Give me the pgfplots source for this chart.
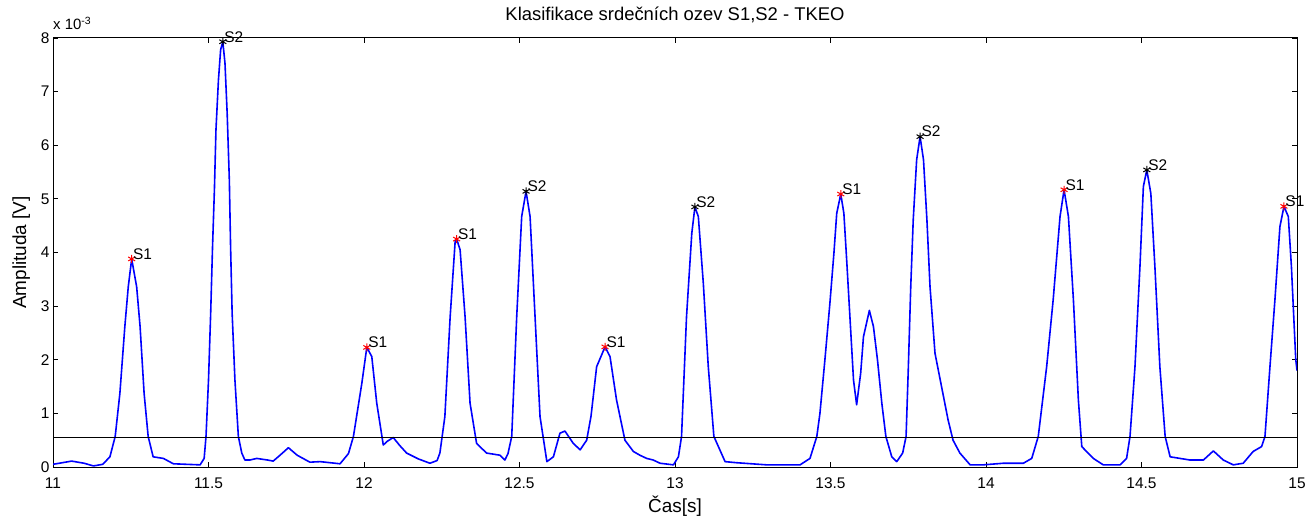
\documentclass[border=0pt]{standalone}
\usepackage{fontspec}
\setmainfont{Liberation Sans}
\usepackage{pgfplots}
\pgfplotsset{compat=1.18}

\begin{document}
\begin{tikzpicture}
\begin{axis}[
  width=1244bp, height=429bp, scale only axis,
  xmin=11, xmax=15, ymin=0, ymax=8,
  xtick={11,11.5,12,12.5,13,13.5,14,14.5,15},
  ytick={0,1,2,3,4,5,6,7,8},
  tick align=inside, tick pos=both, major tick length=5bp,
  axis line style={line width=1bp},
  tick style={black, line width=0.8bp},
  /pgf/number format/assume math mode=true,
  tick label style={font=\fontsize{15.5}{15.5}\selectfont},
  xticklabel style={anchor=base, yshift=-21bp},
  xlabel={Čas[s]},
  xlabel style={at={(axis description cs:0.5,-0.1049)}, anchor=base, font=\fontsize{19}{19}\selectfont},
  ylabel={Amplituda [V]},
  ylabel style={at={(axis description cs:-0.0217,0.5)}, rotate=0, anchor=base, font=\fontsize{19}{19}\selectfont},
  title={Klasifikace srdečních ozev S1,S2 - TKEO},
  title style={at={(axis description cs:0.5,1.028)}, anchor=base, font=\fontsize{18.5}{18.5}\selectfont},
  clip=true,
]
% signal envelope (units of 1e-3 V)
\addplot[blue, line width=1.6bp, mark=none, line join=round] coordinates {
(11.000,0.05)(11.030,0.08)(11.060,0.11)(11.100,0.07)(11.130,0.02)(11.160,0.05)
(11.183,0.19)(11.200,0.57)(11.215,1.37)(11.231,2.62)(11.242,3.36)(11.253,3.88)
(11.269,3.36)(11.280,2.62)(11.293,1.37)(11.306,0.57)(11.322,0.19)(11.355,0.16)
(11.387,0.06)(11.430,0.05)(11.473,0.04)(11.486,0.16)(11.492,0.57)(11.500,1.62)
(11.507,2.87)(11.513,4.11)(11.519,5.17)(11.524,6.29)(11.532,7.22)(11.539,7.78)
(11.546,7.93)(11.553,7.53)(11.560,6.60)(11.567,5.35)(11.571,4.11)(11.576,2.87)
(11.585,1.62)(11.596,0.57)(11.607,0.26)(11.617,0.13)(11.633,0.13)(11.655,0.16)
(11.690,0.13)(11.708,0.11)(11.730,0.22)(11.757,0.36)(11.785,0.22)(11.826,0.09)
(11.859,0.10)(11.923,0.06)(11.950,0.25)(11.966,0.57)(11.993,1.56)(12.009,2.23)
(12.025,2.06)(12.041,1.19)(12.062,0.41)(12.075,0.48)(12.094,0.55)(12.115,0.40)
(12.137,0.26)(12.175,0.15)(12.212,0.07)(12.235,0.12)(12.244,0.26)(12.260,0.94)
(12.277,2.80)(12.293,4.20)(12.298,4.25)(12.309,4.05)(12.325,2.80)(12.341,1.19)
(12.362,0.44)(12.394,0.26)(12.437,0.22)(12.453,0.13)(12.463,0.25)(12.475,0.57)
(12.491,2.80)(12.507,4.67)(12.521,5.14)(12.534,4.67)(12.550,2.80)(12.566,0.94)
(12.588,0.10)(12.609,0.19)(12.630,0.63)(12.646,0.67)(12.673,0.44)(12.695,0.32)
(12.716,0.50)(12.730,0.95)(12.748,1.87)(12.775,2.24)(12.791,2.06)(12.812,1.25)
(12.839,0.50)(12.866,0.29)(12.887,0.22)(12.909,0.16)(12.930,0.13)(12.952,0.07)
(12.995,0.04)(13.011,0.19)(13.021,0.57)(13.037,2.80)(13.054,4.36)(13.064,4.85)
(13.075,4.67)(13.091,3.43)(13.107,1.87)(13.125,0.57)(13.161,0.10)(13.198,0.08)
(13.295,0.04)(13.402,0.04)(13.434,0.16)(13.456,0.57)(13.466,1.00)(13.482,2.00)
(13.498,3.05)(13.511,3.99)(13.520,4.73)(13.533,5.09)(13.543,4.73)(13.552,3.86)
(13.563,2.74)(13.574,1.62)(13.584,1.16)(13.597,1.75)(13.606,2.43)(13.625,2.92)
(13.638,2.62)(13.651,2.00)(13.665,1.19)(13.678,0.57)(13.697,0.19)(13.713,0.10)
(13.732,0.26)(13.743,0.57)(13.750,1.81)(13.758,3.36)(13.766,4.61)(13.777,5.73)
(13.788,6.16)(13.799,5.73)(13.810,4.61)(13.820,3.36)(13.836,2.12)(13.857,1.50)
(13.878,0.88)(13.894,0.50)(13.916,0.26)(13.949,0.04)(13.991,0.04)(14.056,0.07)
(14.120,0.07)(14.147,0.16)(14.168,0.57)(14.195,1.87)(14.216,3.12)(14.238,4.67)
(14.251,5.17)(14.265,4.67)(14.281,3.12)(14.297,1.25)(14.308,0.38)(14.345,0.16)
(14.377,0.04)(14.431,0.04)(14.452,0.16)(14.463,0.57)(14.479,1.87)(14.495,3.74)
(14.506,5.23)(14.517,5.54)(14.530,5.10)(14.543,3.74)(14.559,1.87)(14.576,0.57)
(14.592,0.19)(14.656,0.13)(14.699,0.13)(14.731,0.30)(14.763,0.13)(14.795,0.04)
(14.827,0.07)(14.859,0.29)(14.886,0.38)(14.897,0.57)(14.913,1.87)(14.929,3.12)
(14.945,4.48)(14.958,4.86)(14.972,4.67)(14.982,3.74)(14.990,2.74)(14.996,2.00)
(15.000,1.80)
};
% threshold
\addplot[black, line width=0.9bp, mark=none] coordinates {(11,0.555)(15,0.555)};
% S1 peaks
\addplot[only marks, red, mark=asterisk, mark size=4bp, mark options={line width=1bp},
  nodes near coords={S1},
  every node near coord/.append style={anchor=west, inner sep=0pt, xshift=1bp, yshift=5bp,
    text=black, font=\fontsize{15.5}{15.5}\selectfont}] coordinates {
(11.253,3.88)(12.009,2.23)(12.298,4.25)(12.775,2.24)(13.533,5.09)(14.251,5.17)(14.958,4.86)};
% S2 peaks
\addplot[only marks, black, mark=asterisk, mark size=4bp, mark options={line width=1bp},
  nodes near coords={S2},
  every node near coord/.append style={anchor=west, inner sep=0pt, xshift=1bp, yshift=5bp,
    text=black, font=\fontsize{15.5}{15.5}\selectfont}] coordinates {
(11.546,7.93)(12.521,5.14)(13.064,4.85)(13.788,6.16)(14.517,5.54)};
\end{axis}
\node[anchor=base west, inner sep=0pt, font=\fontsize{15}{15}\selectfont]
  at ([shift={(0bp,8bp)}]current axis.north west) {x 10\textsuperscript{-3}};
\pgfresetboundingbox
\path ([shift={(-53bp,-51bp)}]current axis.south west) rectangle ([shift={(12bp,38bp)}]current axis.north east);
\end{tikzpicture}
\end{document}
